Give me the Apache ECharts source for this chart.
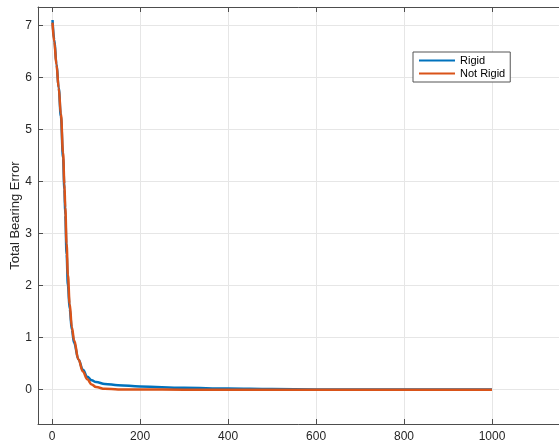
<!DOCTYPE html>
<html>
<head>
<meta charset="utf-8">
<script src="https://cdn.jsdelivr.net/npm/echarts@6/dist/echarts.min.js"></script>
<style>
html,body{margin:0;padding:0;background:#fff;}
#chart{width:559px;height:441px;}
</style>
</head>
<body>
<div id="chart"></div>
<script>
const seriesNames = ['Rigid', 'Not Rigid'];
const iterations = [1, 5, 10, 15, 20, 25, 28, 30, 33, 36, 40, 45, 50, 60, 70, 80, 90, 100, 120, 150, 200, 300, 400, 500, 600, 800, 1000];
const rigidError = [7.1, 6.72, 6.26, 5.8, 5.25, 4.45, 3.85, 3.35, 2.6, 2.0, 1.55, 1.15, 0.9, 0.58, 0.38, 0.25, 0.18, 0.145, 0.11, 0.085, 0.06, 0.035, 0.02, 0.01, 0.005, 0.002, 0.001];
const notRigidError = [7.05, 6.68, 6.24, 5.8, 5.3, 4.55, 3.95, 3.5, 2.8, 2.2, 1.65, 1.2, 0.95, 0.58, 0.35, 0.2, 0.1, 0.05, 0.015, 0.005, 0.002, 0.0, 0.0, 0.0, 0.0, 0.0, 0.0];
const xTicks = [0, 200, 400, 600, 800, 1000, 1200];
const xTickLabels = [0, 200, 400, 600, 800, 1000];
const yTicks = [0, 1, 2, 3, 4, 5, 6, 7];

const font = '"Liberation Sans", Arial, Helvetica, sans-serif';
const chart = echarts.init(document.getElementById('chart'), null, {renderer: 'canvas'});

function pairs(xs, ys) { return xs.map((x, i) => [x, ys[i]]); }

const axisCol = '#4d4d4d';
const gridCol = '#e6e6e6';

chart.setOption({
  animation: false,
  backgroundColor: '#ffffff',
  grid: {left: 38, top: 7, right: -21, bottom: 17, containLabel: false, outerBoundsMode: 'none'},
  legend: {
    orient: 'vertical',
    left: 413, top: 52,
    padding: [3, 5, 3, 5],
    itemGap: 2,
    itemWidth: 36, itemHeight: 12,
    borderColor: '#555', borderWidth: 1,
    backgroundColor: '#fff',
    itemStyle: {opacity: 0},
    textStyle: {fontFamily: font, fontSize: 11, color: '#000'},
    data: seriesNames
  },
  xAxis: [{
    type: 'value', min: -32, max: 1200,
    position: 'bottom',
    axisLine: {show: true, onZero: false, lineStyle: {color: axisCol, width: 1}},
    axisTick: {show: true, inside: true, length: 5, customValues: xTicks, lineStyle: {color: axisCol}},
    axisLabel: {show: true, margin: 7, customValues: xTickLabels, fontFamily: font, fontSize: 12, color: '#262626',
      formatter: v => String(v)},
    splitLine: {show: true, lineStyle: {color: gridCol, width: 1}}
  }, {
    type: 'value', min: -32, max: 1200,
    position: 'top',
    axisLine: {show: true, onZero: false, lineStyle: {color: axisCol, width: 1}},
    axisTick: {show: true, inside: true, length: 5, customValues: xTicks, lineStyle: {color: axisCol}},
    axisLabel: {show: false},
    splitLine: {show: false}
  }],
  yAxis: {
    type: 'value', min: -0.66, max: 7.35,
    name: 'Total Bearing Error', nameLocation: 'middle', nameGap: 16, nameMoveOverlap: false,
    nameTextStyle: {fontFamily: font, fontSize: 13, color: '#262626'},
    axisLine: {show: true, onZero: false, lineStyle: {color: axisCol, width: 1}},
    axisTick: {show: true, inside: true, length: 5, customValues: yTicks, lineStyle: {color: axisCol}},
    axisLabel: {show: true, margin: 6, customValues: yTicks, fontFamily: font, fontSize: 12, color: '#262626'},
    splitLine: {show: true, lineStyle: {color: gridCol, width: 1}}
  },
  series: [{
    name: seriesNames[0], type: 'line', xAxisIndex: 0,
    data: pairs(iterations, rigidError),
    showSymbol: false, symbol: 'none',
    smooth: 0.4, smoothMonotone: 'x',
    lineStyle: {color: '#0072BD', width: 2.5},
    itemStyle: {color: '#0072BD'}
  }, {
    name: seriesNames[1], type: 'line', xAxisIndex: 0,
    data: pairs(iterations, notRigidError),
    showSymbol: false, symbol: 'none',
    smooth: 0.4, smoothMonotone: 'x',
    lineStyle: {color: '#D95319', width: 2.5},
    itemStyle: {color: '#D95319'}
  }]
});
</script>
</body>
</html>
